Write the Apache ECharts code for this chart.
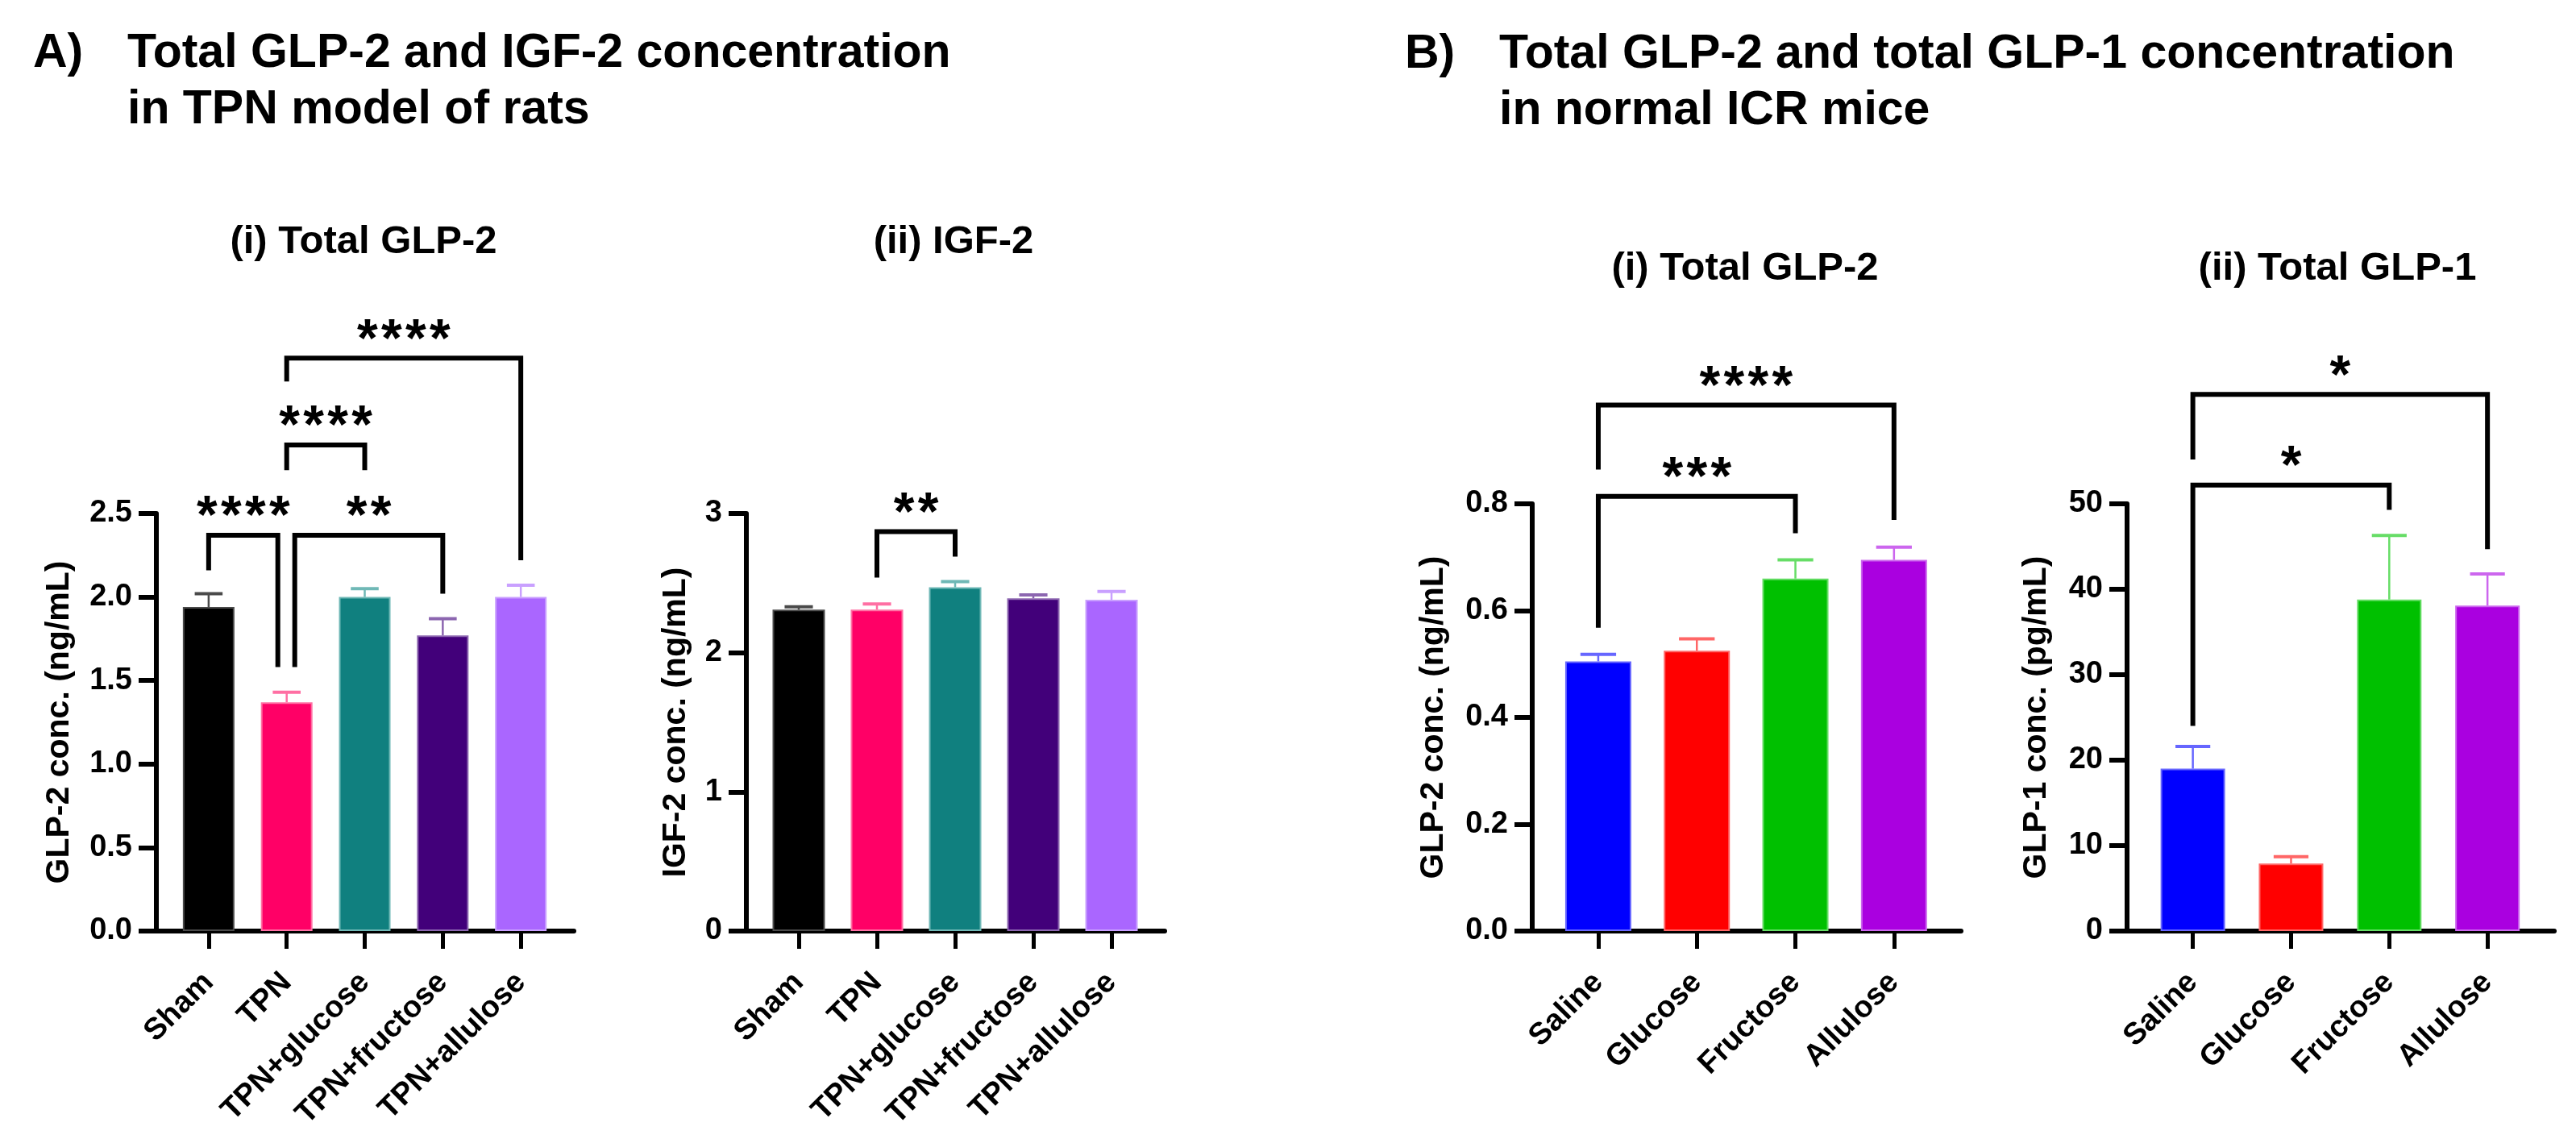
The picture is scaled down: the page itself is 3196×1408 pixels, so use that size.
<!DOCTYPE html>
<html><head><meta charset="utf-8">
<script src="https://cdn.jsdelivr.net/npm/echarts@6/dist/echarts.min.js"></script>
<style>html,body{margin:0;padding:0;background:#fff;}#c{width:3196px;height:1408px;}</style>
</head><body><div id="c"></div>
<script>
// ---------- data ----------
const categoriesA = ['Sham', 'TPN', 'TPN+glucose', 'TPN+fructose', 'TPN+allulose'];
const glp2RatMean = [1.94, 1.37, 2.00, 1.77, 2.00];
const glp2RatSem  = [0.08, 0.06, 0.05, 0.10, 0.07];
const igf2RatMean = [2.31, 2.31, 2.47, 2.39, 2.38];
const igf2RatSem  = [0.02, 0.04, 0.04, 0.025, 0.06];

const categoriesB = ['Saline', 'Glucose', 'Fructose', 'Allulose'];
const glp2MiceMean = [0.505, 0.525, 0.66, 0.695];
const glp2MiceSem  = [0.013, 0.022, 0.035, 0.024];
const glp1MiceMean = [19.0, 7.9, 38.8, 38.1];
const glp1MiceSem  = [2.6, 0.8, 7.5, 3.7];

const ticksA1 = [0, 0.5, 1.0, 1.5, 2.0, 2.5];
const ticksA2 = [0, 1, 2, 3];
const ticksB1 = [0, 0.2, 0.4, 0.6, 0.8];
const ticksB2 = [0, 10, 20, 30, 40, 50];

// significance comparisons: [from, to, bracket level, from-leg end, to-leg end, stars]
const sigA1 = [
  [0, 1, 2.37, 2.16, 1.58, '****'],
  [1, 3, 2.37, 1.58, 2.02, '**'],
  [1, 2, 2.91, 2.76, 2.76, '****'],
  [1, 4, 3.43, 3.29, 2.22, '****']
];
const sigA2 = [[1, 2, 2.87, 2.54, 2.69, '**']];
const sigB1 = [
  [0, 2, 0.814, 0.568, 0.745, '***'],
  [0, 3, 0.985, 0.864, 0.770, '****']
];
const sigB2 = [
  [0, 2, 52.2, 24.0, 49.3, '*'],
  [0, 3, 62.8, 55.2, 44.7, '*']
];

// ---------- styles ----------
const FONT = '"Liberation Sans", Arial, Helvetica, sans-serif';
const colorsA = ['#000000', '#FF0066', '#10807F', '#42007A', '#AA66FF'];
const errColorsA = ['#4a4a4a', '#FF6FA3', '#6FB8B6', '#8C66B0', '#C9A0FF'];
const colorsB = ['#0000FF', '#FF0000', '#00C000', '#AA00E0'];
const errColorsB = ['#6666FF', '#FF6666', '#66DD66', '#CC66EE'];
const legShiftA1 = [[0, -11], [10, 0], [0, 0], [0, 0]];
const noShift = [[0, 0], [0, 0]];

const grids = [
  {left: 194, top: 637, width: 518, height: 518},
  {left: 926, top: 637, width: 519, height: 518},
  {left: 1901, top: 625, width: 532, height: 530},
  {left: 2639, top: 625, width: 530, height: 530}
];

function xAxis(gi, cats, min, max) {
  const idx = cats.map((c, i) => i);
  return {
    type: 'value', gridIndex: gi, min: min, max: max,
    axisLine: {show: true, onZero: false, lineStyle: {color: '#000', width: 6}},
    splitLine: {show: false},
    axisTick: {show: true, customValues: idx, length: 22, lineStyle: {color: '#000', width: 5}},
    axisLabel: {
      customValues: idx, formatter: v => cats[Math.round(v)], rotate: 45, margin: 58,
      fontSize: 38, fontWeight: 'bold', color: '#000', fontFamily: FONT
    }
  };
}
function yAxis(gi, ticks, name, nameGap, dec) {
  return {
    type: 'value', gridIndex: gi, min: ticks[0], max: ticks[ticks.length - 1],
    interval: ticks[1] - ticks[0],
    axisLine: {show: true, onZero: false, lineStyle: {color: '#000', width: 6}},
    axisTick: {show: true, length: 22, lineStyle: {color: '#000', width: 6}},
    splitLine: {show: false},
    axisLabel: {formatter: v => v.toFixed(dec), margin: 30, fontSize: 38, fontWeight: 'bold',
      color: '#000', fontFamily: FONT},
    name: name, nameLocation: 'middle', nameGap: nameGap,
    nameTextStyle: {fontSize: 41, fontWeight: 'bold', color: '#000', fontFamily: FONT}
  };
}
function barSeries(gi, means, colors, edges, bw) {
  return {
    type: 'bar', xAxisIndex: gi, yAxisIndex: gi, barWidth: bw, z: 2, silent: true,
    data: means.map((m, i) => ({value: [i, m], itemStyle: {color: colors[i], borderColor: edges[i], borderWidth: 2}}))
  };
}
function errSeries(gi, means, sems, colors, bw) {
  return {
    type: 'custom', xAxisIndex: gi, yAxisIndex: gi, clip: false, z: 3, silent: true,
    data: means.map((m, i) => [i, m, m + sems[i]]),
    renderItem: function (params, api) {
      const i = api.value(0);
      const p0 = api.coord([i, api.value(1)]);
      const p1 = api.coord([i, api.value(2)]);
      const hw = bw * 0.27;
      return {type: 'group', children: [
        {type: 'line', shape: {x1: p0[0], y1: p0[1], x2: p1[0], y2: p1[1]}, style: {stroke: colors[i], lineWidth: 2.5}},
        {type: 'line', shape: {x1: p1[0] - hw, y1: p1[1], x2: p1[0] + hw, y2: p1[1]}, style: {stroke: colors[i], lineWidth: 4}}
      ]};
    }
  };
}
function sigSeries(gi, defs, shifts) {
  return {
    type: 'custom', xAxisIndex: gi, yAxisIndex: gi, clip: false, z: 10, silent: true,
    data: defs.map((d, i) => [d[0], d[1], d[2], d[3], d[4], i]),
    renderItem: function (params, api) {
      const k = api.value(5);
      const sh = shifts[k];
      const stars = defs[k][5];
      const pL = api.coord([api.value(0), api.value(2)]);
      const pR = api.coord([api.value(1), api.value(2)]);
      const yL = api.coord([api.value(0), api.value(3)])[1];
      const yR = api.coord([api.value(1), api.value(4)])[1];
      const xL = pL[0] + sh[0], xR = pR[0] + sh[1], yT = pL[1];
      const children = [{
        type: 'polyline',
        shape: {points: [[xL, yL], [xL, yT], [xR, yT], [xR, yR]]},
        style: {stroke: '#000', lineWidth: 6, fill: null, lineJoin: 'miter', lineCap: 'butt'}
      }];
      const n = stars.length, cx = (xL + xR) / 2;
      for (let j = 0; j < n; j++) {
        children.push({
          type: 'text', x: cx + (j - (n - 1) / 2) * 30, y: yT - 21,
          style: {text: stars[j], fontSize: 66, fontFamily: FONT, fontWeight: 'bold', fill: '#000',
            align: 'center', verticalAlign: 'middle', textAlign: 'center', textVerticalAlign: 'middle'}
        });
      }
      return {type: 'group', children: children};
    }
  };
}
function txt(x, y, s, size, align) {
  return {type: 'text', x: x, y: y, silent: true,
    style: {text: s, fontSize: size, fontWeight: 'bold', fontFamily: FONT, fill: '#000',
      align: align, verticalAlign: 'middle', textAlign: align, textVerticalAlign: 'middle'}};
}

const chart = echarts.init(document.getElementById('c'), null, {renderer: 'canvas'});
chart.setOption({
  backgroundColor: '#fff',
  animation: false,
  grid: grids.map(g => Object.assign({outerBoundsMode: 'none', containLabel: false}, g)),
  xAxis: [
    xAxis(0, categoriesA, -0.67, 4.68),
    xAxis(1, categoriesA, -0.67, 4.68),
    xAxis(2, categoriesB, -0.67, 3.68),
    xAxis(3, categoriesB, -0.67, 3.68)
  ],
  yAxis: [
    yAxis(0, ticksA1, 'GLP-2 conc. (ng/mL)', 100, 1),
    yAxis(1, ticksA2, 'IGF-2 conc. (ng/mL)', 67, 0),
    yAxis(2, ticksB1, 'GLP-2 conc. (ng/mL)', 102, 1),
    yAxis(3, ticksB2, 'GLP-1 conc. (pg/mL)', 92, 0)
  ],
  series: [
    barSeries(0, glp2RatMean, colorsA, errColorsA, 64),
    errSeries(0, glp2RatMean, glp2RatSem, errColorsA, 64),
    sigSeries(0, sigA1, legShiftA1),
    barSeries(1, igf2RatMean, colorsA, errColorsA, 65),
    errSeries(1, igf2RatMean, igf2RatSem, errColorsA, 65),
    sigSeries(1, sigA2, noShift),
    barSeries(2, glp2MiceMean, colorsB, errColorsB, 82),
    errSeries(2, glp2MiceMean, glp2MiceSem, errColorsB, 82),
    sigSeries(2, sigB1, noShift),
    barSeries(3, glp1MiceMean, colorsB, errColorsB, 80),
    errSeries(3, glp1MiceMean, glp1MiceSem, errColorsB, 80),
    sigSeries(3, sigB2, noShift)
  ],
  graphic: [
    txt(41, 67, 'A)', 59, 'left'),
    txt(158, 67, 'Total GLP-2 and IGF-2 concentration', 59, 'left'),
    txt(158, 137, 'in TPN model of rats', 59, 'left'),
    txt(1743, 68, 'B)', 59, 'left'),
    txt(1860, 68, 'Total GLP-2 and total GLP-1 concentration', 59, 'left'),
    txt(1860, 138, 'in normal ICR mice', 59, 'left'),
    txt(451, 300, '(i) Total GLP-2', 49, 'center'),
    txt(1183, 300, '(ii) IGF-2', 49, 'center'),
    txt(2165, 333, '(i) Total GLP-2', 49, 'center'),
    txt(2900, 333, '(ii) Total GLP-1', 49, 'center')
  ]
});
</script></body></html>
